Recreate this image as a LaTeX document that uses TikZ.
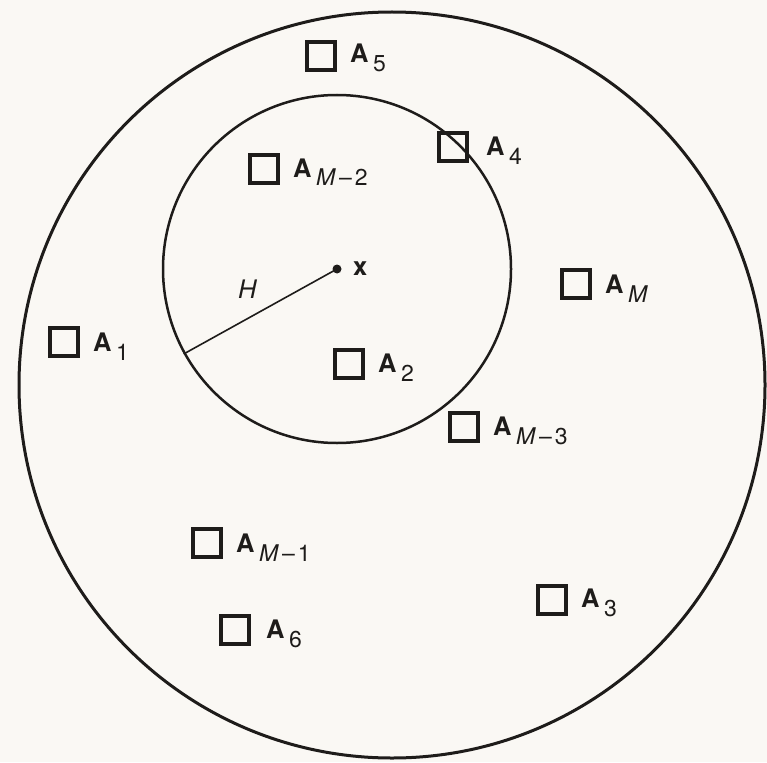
\documentclass[tikz,border=0pt]{standalone}
\usepackage{fontspec}
\setmainfont{TeX Gyre Heros}
\definecolor{bg}{RGB}{250,248,244}
\definecolor{ink}{RGB}{30,28,26}
\newcommand{\Alab}[1]{{\fontsize{25.5}{25}\selectfont\bfseries A}\hspace{4.5pt}\raisebox{-9pt}{\fontsize{23}{23}\selectfont #1}}
\newcommand{\Msub}[1]{\textit{M}\hspace{3pt}\textendash\hspace{3pt}#1}
\begin{document}
\begin{tikzpicture}[x=1pt,y=-1pt,
  box/.style={draw=ink, line width=4pt, minimum size=28pt, inner sep=0pt},
  lab/.style={anchor=base west, inner sep=0pt, text=ink},
  ring/.style={draw=ink, circle, inner sep=0pt}]
\fill[bg] (0,0) rectangle (767,762);
\useasboundingbox (0,0) rectangle (767,762);
% circles
\node[ring, line width=3pt, minimum size=746pt] (outer) at (392,385) {};
\node[ring, line width=2.5pt, minimum size=348pt] (inner) at (337,269) {};
% centre point and radius
\node[circle, fill=ink, inner sep=0pt, minimum size=9pt] (xdot) at (337,269) {};
\coordinate (hend) at (inner.209.5);
\draw[ink, line width=1.6pt] (xdot.center) -- (hend);
\node[lab] (xlab) at (353,275) {\fontsize{25.5}{25}\selectfont\bfseries x};
\node[lab] (hlab) at (238,298) {\fontsize{25.5}{25}\selectfont\itshape H};
% squares
\node[box] (s5) at (321,56) {};
\node[box] (s4) at (453,147) {};
\node[box] (sm2) at (264,169) {};
\node[box] (s2) at (349,364) {};
\node[box] (sm) at (576,284) {};
\node[box] (sm3) at (464,427) {};
\node[box] (s1) at (64,342) {};
\node[box] (sm1) at (207,543) {};
\node[box] (s6) at (235,630) {};
\node[box] (s3) at (552,600) {};
% labels
\node[lab] (l5) at (350,63) {\Alab{5}};
\node[lab] (l4) at (486,156) {\Alab{4}};
\node[lab] (lm2) at (293,177) {\Alab{\Msub{2}}};
\node[lab] (l2) at (378,372) {\Alab{2}};
\node[lab] (lm) at (605,293) {\Alab{\textit{M}}};
\node[lab] (lm3) at (493,435) {\Alab{\Msub{3}}};
\node[lab] (l1) at (93,351) {\Alab{1}};
\node[lab] (lm1) at (236,552) {\Alab{\Msub{1}}};
\node[lab] (l6) at (266,638) {\Alab{6}};
\node[lab] (l3) at (581,607) {\Alab{3}};
\end{tikzpicture}
\end{document}
